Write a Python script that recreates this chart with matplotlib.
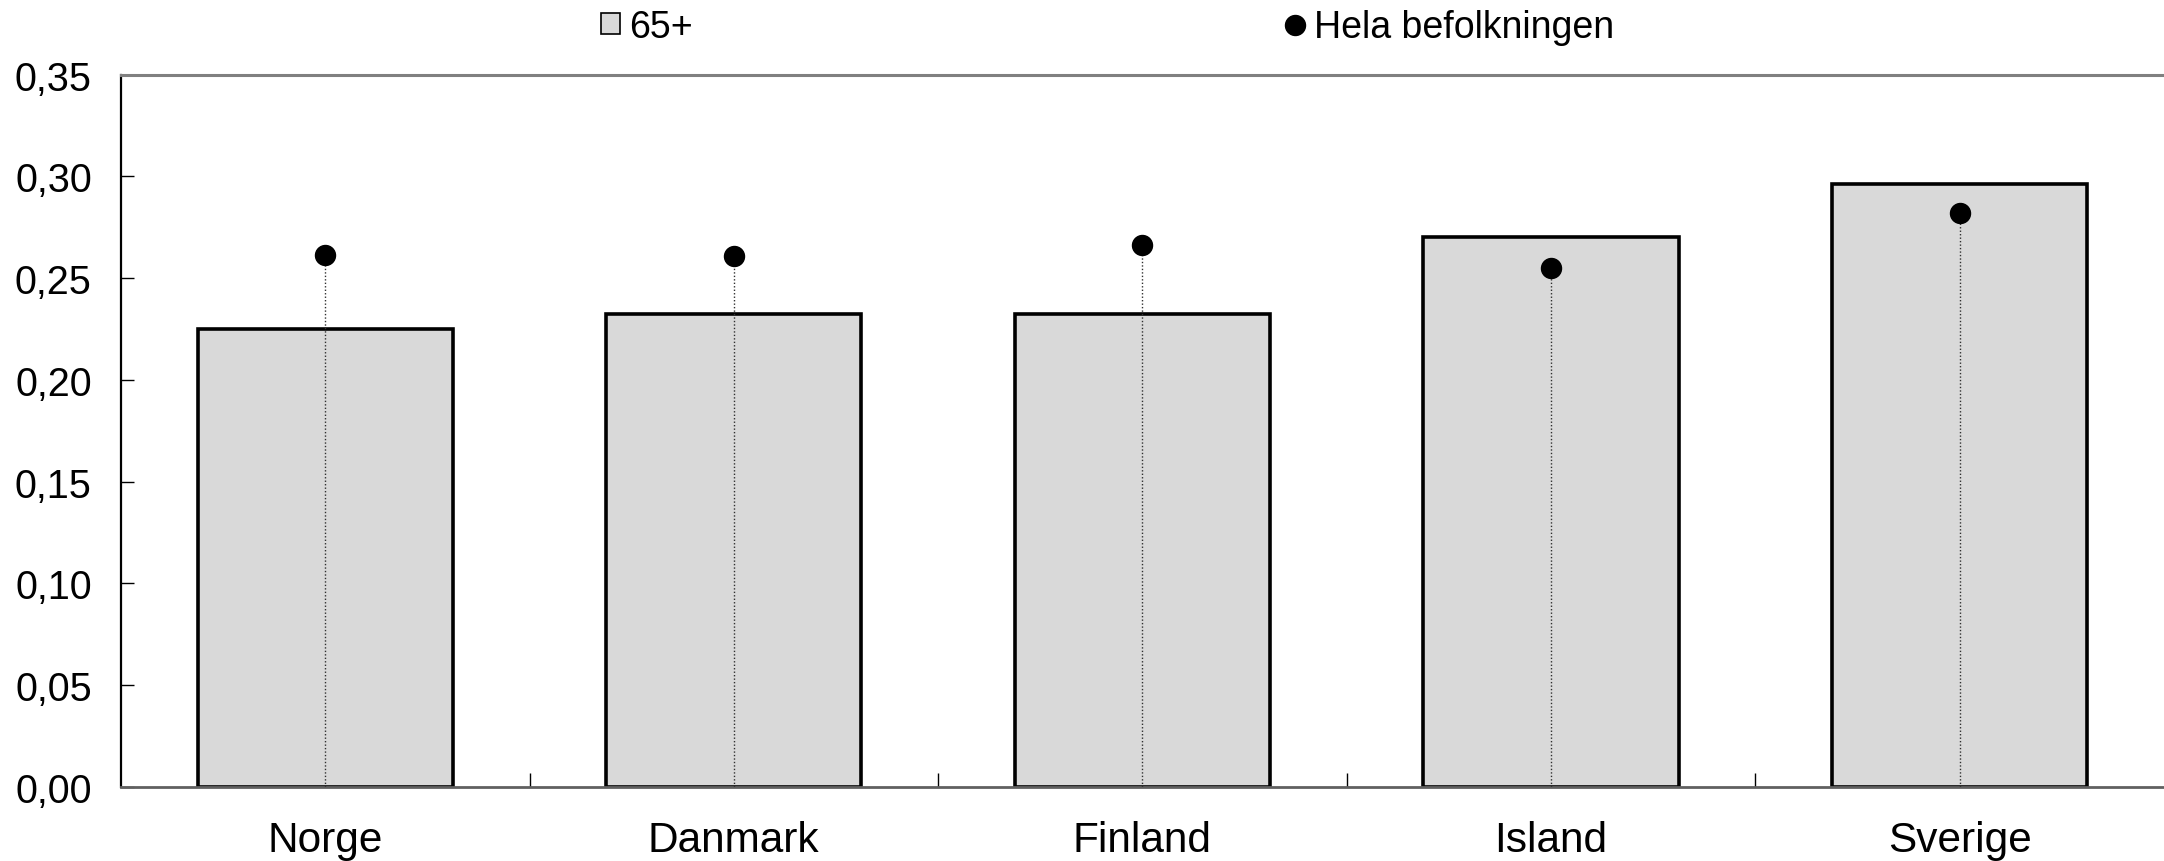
import numpy as np
import matplotlib.pyplot as plt
from matplotlib.patches import Patch
from matplotlib.lines import Line2D
from matplotlib.ticker import FuncFormatter

plt.rcParams['font.family'] = ['Liberation Sans', 'DejaVu Sans']

# data
lander = ['Norge', 'Danmark', 'Finland', 'Island', 'Sverige']
aldre_65 = [0.2248, 0.2322, 0.2326, 0.2703, 0.2964]
hela_bef = [0.2613, 0.2610, 0.2664, 0.2552, 0.2818]
y_ticks = [0.00, 0.05, 0.10, 0.15, 0.20, 0.25, 0.30, 0.35]

fig = plt.figure(figsize=(21.64, 8.62), dpi=100)
ax = fig.add_axes([0.0559, 0.0858, 0.944, 0.8266])

x = np.arange(len(lander))
ax.bar(x, aldre_65, width=0.625, color='#D9D9D9', edgecolor='black',
       linewidth=2.6, zorder=2)
ax.vlines(x, 0, hela_bef, colors='#303030', linestyles=(0, (1, 1.5)),
          linewidth=1.0, zorder=3)
ax.plot(x, hela_bef, 'o', color='black', markersize=14.4, zorder=4)

ax.set_xlim(-0.5, len(lander) - 0.5)
ax.set_ylim(0, 0.35)
ax.set_yticks(y_ticks)
ax.yaxis.set_major_formatter(FuncFormatter(lambda v, p: f'{v:.2f}'.replace('.', ',')))
ax.tick_params(axis='y', direction='in', length=9, width=1, labelsize=28.5, pad=21)

ax.set_xticks(x)
ax.set_xticklabels(lander)
ax.set_xticks(np.arange(len(lander) - 1) + 0.5, minor=True)
ax.tick_params(axis='x', which='major', length=0, labelsize=30.5, pad=24)
ax.tick_params(axis='x', which='minor', direction='in', length=10, width=1)

ax.spines['right'].set_visible(False)
ax.spines['left'].set_color('black')
ax.spines['left'].set_linewidth(1.6)
ax.spines['top'].set_color('#808080')
ax.spines['top'].set_linewidth(2.2)
ax.spines['bottom'].set_color('#606060')
ax.spines['bottom'].set_linewidth(2.0)

handles = [Patch(facecolor='#D9D9D9', edgecolor='black', linewidth=1.2),
           Line2D([], [], marker='o', color='black', linestyle='none', markersize=14.4)]
fig.legend(handles, ['65+', 'Hela befolkningen'], loc='center',
           bbox_to_anchor=(0.5117, 0.968), ncol=2, frameon=False,
           fontsize=27, handlelength=0.5, handleheight=0.5,
           handletextpad=0.25, columnspacing=15.8, borderpad=0)

fig.savefig('out.png', dpi=100)
